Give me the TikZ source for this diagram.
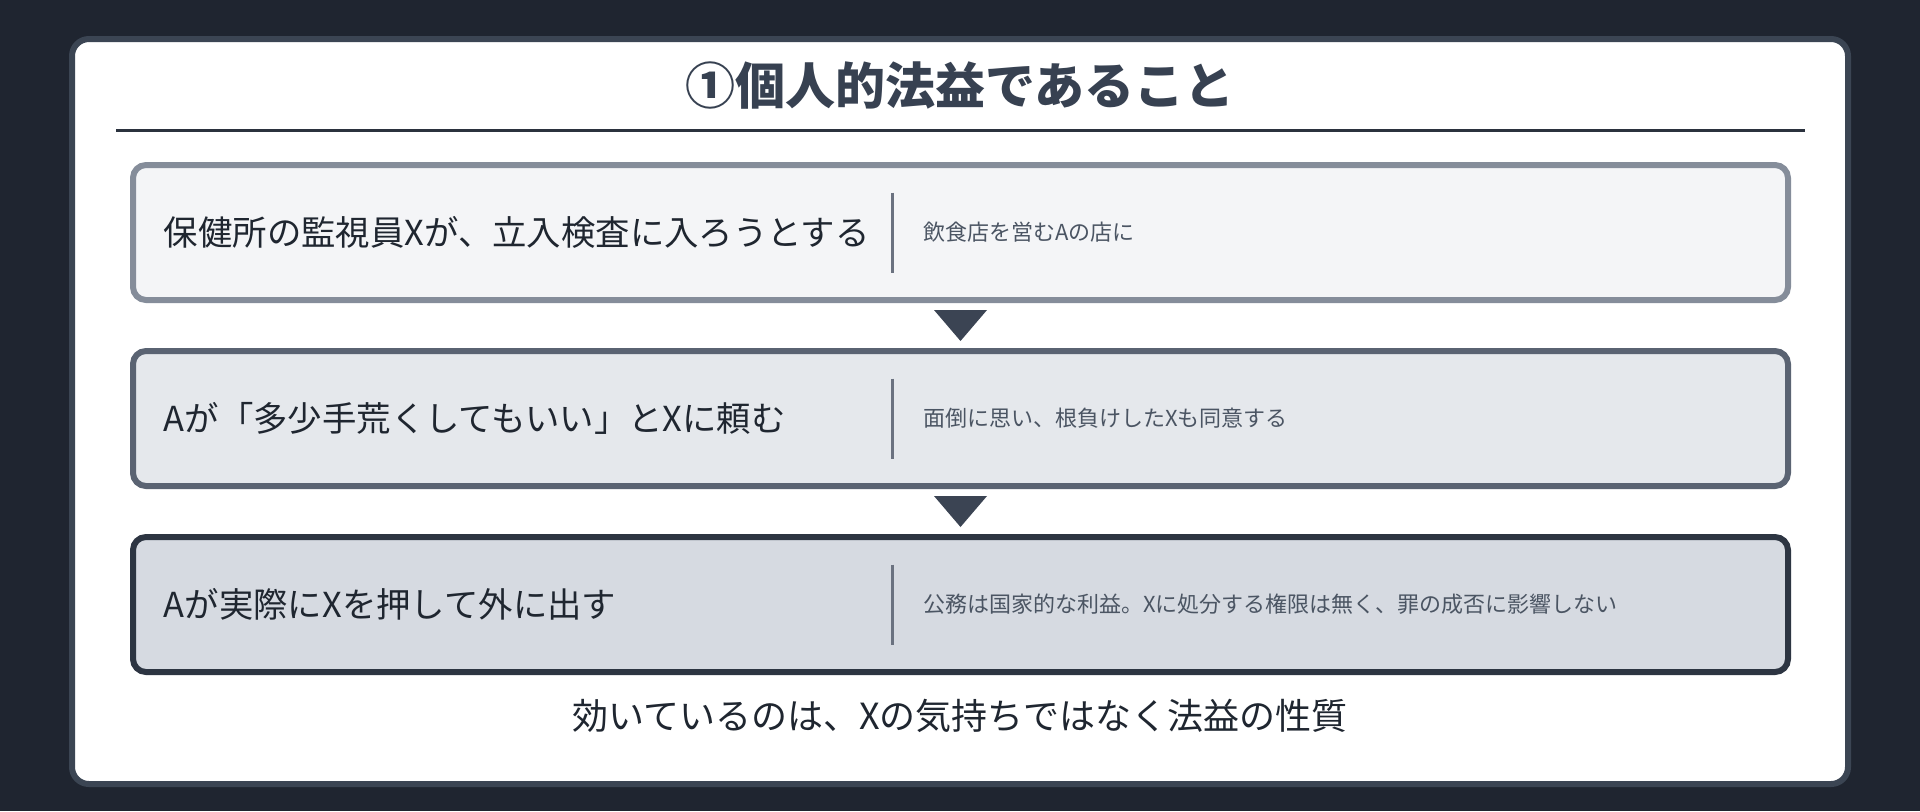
\documentclass[tikz,border=0pt]{standalone}
\usepackage{fontspec}
\setmainfont{Noto Sans CJK JP}
\usetikzlibrary{positioning,calc}
\definecolor{bgcol}{HTML}{1F2530}
\definecolor{cardborder}{HTML}{3B4553}
\definecolor{rulecol}{HTML}{2B323E}
\definecolor{onefill}{HTML}{F4F5F7}
\definecolor{oneborder}{HTML}{858D9A}
\definecolor{twofill}{HTML}{E5E8EC}
\definecolor{twoborder}{HTML}{5A6372}
\definecolor{threefill}{HTML}{D6DAE1}
\definecolor{threeborder}{HTML}{2D3542}
\definecolor{arrowcol}{HTML}{3B4453}
\definecolor{titlecol}{HTML}{374151}
\definecolor{maincol}{HTML}{1F2630}
\definecolor{sidecol}{HTML}{4B5563}
\definecolor{divcol}{HTML}{6B7280}

\begin{document}
\begin{tikzpicture}[x=0.5pt,y=-0.5pt,
	stepbox/.style={rectangle,rounded corners=6.5pt,minimum width=827.5pt,minimum height=67.5pt,line width=3pt},
	maintext/.style={anchor=west,inner sep=0pt,text=maincol,font=\fontsize{17.2}{20}\selectfont},
	sidetext/.style={inner sep=0pt,text=sidecol,font=\fontsize{11}{13}\selectfont},
	divline/.style={draw=divcol,line width=1.2pt},
	steparrow/.style={fill=arrowcol}]
							\fill[bgcol] (0,0) rectangle (1920,811);
							\node (card)[rectangle,rounded corners=8.5pt,minimum width=888pt,minimum height=372.5pt,line width=3pt,draw=cardborder,fill=white] at (960,411.5) {};
							\node (title)[text=titlecol,font=\fontsize{25}{30}\selectfont\bfseries] at (960,86) {①個人的法益であること};
							\coordinate (ruleL) at (116,130.5);
							\coordinate (ruleR) at (1805,130.5);
							\draw[rulecol,line width=1.5pt] (ruleL) -- (ruleR);

							\node (step1)[stepbox,draw=oneborder,fill=onefill] at (960.5,232.5) {};
							\node (main1)[maintext] at ([xshift=16.7pt]step1.west) {保健所の監視員Xが、立入検査に入ろうとする};
							\coordinate (div1) at ([xshift=381.3pt]step1.west);
							\draw[divline] ([yshift=20pt]div1) -- ([yshift=-20pt]div1);
							\node (side1)[sidetext,right=15pt of div1] {飲食店を営むAの店に};

							\node (step2)[stepbox,draw=twoborder,fill=twofill] at (960.5,418.5) {};
							\node (main2)[maintext] at ([xshift=16.7pt]step2.west) {Aが「多少手荒くしてもいい」とXに頼む};
							\coordinate (div2) at ([xshift=381.3pt]step2.west);
							\draw[divline] ([yshift=20pt]div2) -- ([yshift=-20pt]div2);
							\node (side2)[sidetext,right=15pt of div2] {面倒に思い、根負けしたXも同意する};

							\node (step3)[stepbox,draw=threeborder,fill=threefill] at (960.5,604.5) {};
							\node (main3)[maintext] at ([xshift=16.7pt]step3.west) {Aが実際にXを押して外に出す};
							\coordinate (div3) at ([xshift=381.3pt]step3.west);
							\draw[divline] ([yshift=20pt]div3) -- ([yshift=-20pt]div3);
							\node (side3)[sidetext,right=15pt of div3] {公務は国家的な利益。Xに処分する権限は無く、罪の成否に影響しない};

							\coordinate (gap1) at ($(step1.south)!0.5!(step2.north)$);
							\coordinate (gap2) at ($(step2.south)!0.5!(step3.north)$);
							\fill[steparrow] (gap1) ++(-26.5,-15.5) -- ++(53,0) -- ++(-26.5,31) -- cycle;
							\fill[steparrow] (gap2) ++(-26.5,-15.5) -- ++(53,0) -- ++(-26.5,31) -- cycle;

							\node (footer)[text=maincol,font=\fontsize{18}{22}\selectfont] at (960,716) {効いているのは、Xの気持ちではなく法益の性質};
						\end{tikzpicture}
\end{document}
